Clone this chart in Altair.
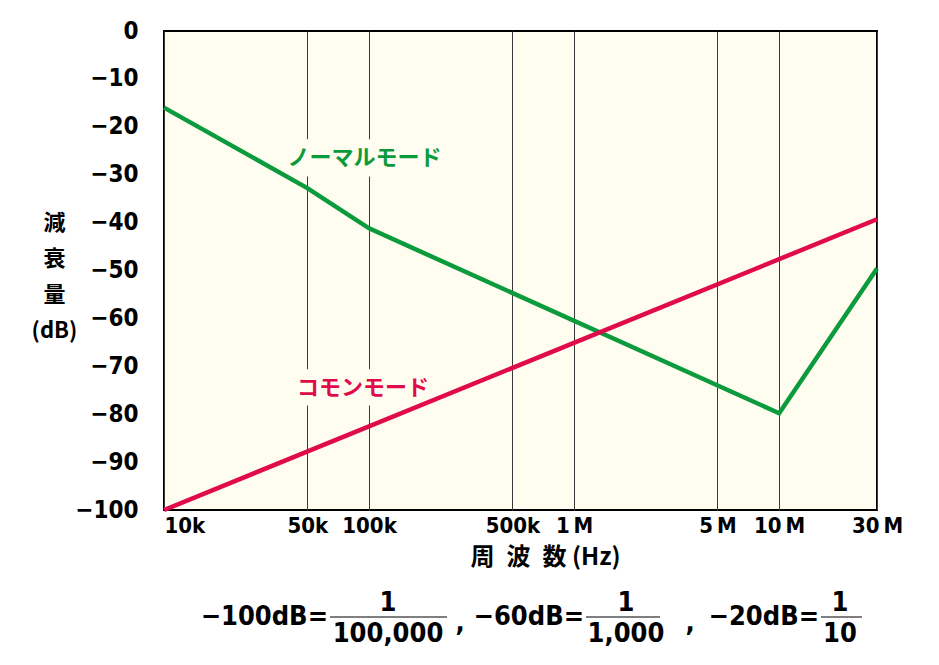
import altair as alt
import pandas as pd

# ---- data ----
freq_ticks = [10000, 50000, 100000, 500000, 1000000, 5000000, 10000000, 30000000]
freq_tick_labels = ["10k", "50k", "100k", "500k", "1\u2009M", "5\u2009M", "10\u2009M", "30\u2009M"]
db_ticks = [0, -10, -20, -30, -40, -50, -60, -70, -80, -90, -100]

normal_freq = [10000, 50000, 100000, 10000000, 30000000]
normal_db = [-16, -32.8, -41.2, -79.8, -49.6]
common_freq = [10000, 30000000]
common_db = [-100, -39.3]

GREEN = "#0b9a3c"
RED = "#e00b4b"
BG = "#fffdf0"
NUM_FONT = "Liberation Sans Narrow, DejaVu Sans Condensed, Roboto, sans-serif"
JP_FONT = "Noto Sans CJK JP"

df_normal = pd.DataFrame({"freq": normal_freq, "db": normal_db})
df_common = pd.DataFrame({"freq": common_freq, "db": common_db})

label_expr = " : ".join(
    f"datum.value == {v} ? '{t}'" for v, t in zip(freq_ticks, freq_tick_labels)
) + " : ''"

xscale = alt.Scale(type="log", domain=[10000, 30000000], nice=False)
yscale = alt.Scale(domain=[-100, 0], nice=False, zero=False)

xaxis = alt.Axis(
    values=freq_ticks, labelExpr=label_expr, grid=True, gridColor="#3a3a3a",
    gridWidth=1, ticks=False, domain=False, labelFont=NUM_FONT, labelFontWeight="bold",
    labelFontSize=22, labelColor="black", labelPadding=5, labelOverlap=False,
    labelAlign={"expr": "datum.value <= 10000 ? 'left' : 'center'"},
    title="周\u2002波\u2002数 (Hz)", titleFont=JP_FONT, titleFontSize=24, titleFontWeight="bold",
    titleColor="black", titleX=381, titleY=54, titleBaseline="alphabetic", titleAlign="center",
)
yaxis = alt.Axis(
    values=db_ticks, grid=False, ticks=False, domain=False,
    labelExpr="datum.value == 0 ? '0' : '−' + abs(datum.value)",
    labelFont=NUM_FONT, labelFontWeight="bold", labelFontSize=24, labelColor="black",
    labelPadding=26,
    title=["減", "衰", "量", "(dB)"], titleAngle=0, titleAlign="center",
    titleBaseline="top", titleX=-110, titleY=181, titleLineHeight=36,
    titleFont=JP_FONT, titleFontSize=22, titleFontWeight="bold", titleColor="black",
)

base_x = alt.X("freq:Q", scale=xscale, axis=xaxis)
base_y = alt.Y("db:Q", scale=yscale, axis=yaxis)

# label background boxes (break the gridlines like in the reference)
boxes = pd.DataFrame({
    "f1": [38000, 43000], "f2": [236000, 212000],
    "d1": [-22.6, -70.6], "d2": [-30.4, -78.2],
})
box_layer = alt.Chart(boxes).mark_rect(fill=BG).encode(
    x=alt.X("f1:Q", scale=xscale), x2="f2:Q",
    y=alt.Y("d1:Q", scale=yscale), y2="d2:Q",
)

line_normal = alt.Chart(df_normal).mark_line(color=GREEN, strokeWidth=4.5).encode(x=base_x, y=base_y)
line_common = alt.Chart(df_common).mark_line(color=RED, strokeWidth=4.5).encode(
    x=alt.X("freq:Q", scale=xscale), y=alt.Y("db:Q", scale=yscale)
)

labels = pd.DataFrame({
    "freq": [40000, 44500], "db": [-26.6, -74.6],
    "text": ["ノーマルモード", "コモンモード"], "color": [GREEN, RED],
})
label_layer = alt.Chart(labels).mark_text(
    font=JP_FONT, fontSize=22, fontWeight="bold", align="left", baseline="middle"
).encode(
    x=alt.X("freq:Q", scale=xscale), y=alt.Y("db:Q", scale=yscale),
    text="text:N", color=alt.Color("color:N", scale=None),
)

# ---- formula below the chart ----
formula_text = ["−100dB=", "1", "100,000", ",", "−60dB=", "1", "1,000", ",", "−20dB=", "1", "10"]


def txt(s, x, y, align="left", size=27):
    return alt.Chart(pd.DataFrame({"t": [s]})).mark_text(
        font=NUM_FONT, fontWeight="bold", fontSize=size, align=align, baseline="middle", color="black"
    ).encode(x=alt.value(x), y=alt.value(y), text="t:N")


def bar(x1, x2, y):
    return alt.Chart(pd.DataFrame({"a": [0]})).mark_rule(color="#555", strokeWidth=1.5).encode(
        x=alt.value(x1), x2=alt.value(x2), y=alt.value(y)
    )


OX, OY = 164, 31
mid = 617 - OY
num = 603 - OY
den = 634 - OY
formula = [
    txt(formula_text[0], 328 - OX, mid, "right"),
    bar(330 - OX, 447 - OX, mid),
    txt(formula_text[1], 388 - OX, num, "center"),
    txt(formula_text[2], 388 - OX, den, "center"),
    txt(formula_text[3], 460 - OX, mid + 6, "center"),
    txt(formula_text[4], 584 - OX, mid, "right"),
    bar(586 - OX, 660 - OX, mid),
    txt(formula_text[5], 626 - OX, num, "center"),
    txt(formula_text[6], 626 - OX, den, "center"),
    txt(formula_text[7], 690 - OX, mid + 6, "center"),
    txt(formula_text[8], 819 - OX, mid, "right"),
    bar(821 - OX, 862 - OX, mid),
    txt(formula_text[9], 840 - OX, num, "center"),
    txt(formula_text[10], 840 - OX, den, "center"),
]

chart = alt.layer(box_layer, line_normal, line_common, label_layer, *formula).properties(
    width=713, height=479,
    autosize=alt.AutoSizeParams(type="none"),
    padding={"left": 156, "top": 23, "right": 40, "bottom": 142},
    background="white",
).configure_view(
    fill=BG, stroke="black", strokeWidth=2
)

chart.save("out.html", embed_options={"renderer": "svg", "actions": False})
